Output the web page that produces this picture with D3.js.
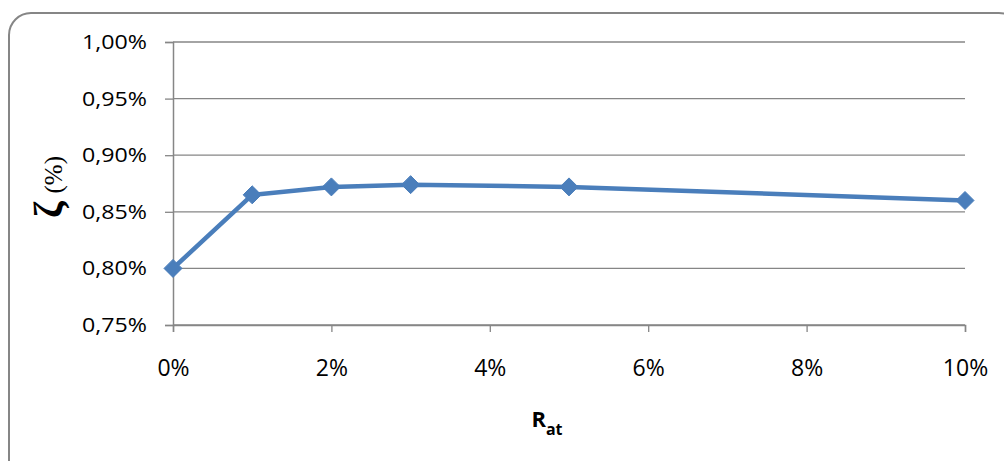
<!DOCTYPE html>
<html>
<head>
<meta charset="utf-8">
<script src="https://cdn.jsdelivr.net/npm/d3@7"></script>
<style>
  html, body { margin: 0; padding: 0; background: #fff; }
  svg { display: block; }
  .tick text { font-family: "Open Sans", "Liberation Sans", sans-serif; fill: #000; }
</style>
</head>
<body>
<svg id="chart" width="1004" height="461"></svg>
<script>
// Ratio R_at (fraction) and damping ratio ζ (fraction)
const ratValues = [0, 0.01, 0.02, 0.03, 0.05, 0.10];
const zetaValues = [0.0080, 0.00865, 0.00872, 0.00874, 0.00872, 0.00860];
const xTickValues = [0, 0.02, 0.04, 0.06, 0.08, 0.10];
const yTickValues = [0.0075, 0.0080, 0.0085, 0.0090, 0.0095, 0.0100];

const svg = d3.select("#chart");
const W = 1004, H = 461;
const margin = { left: 173, right: 39, top: 42, bottom: 136 };

// Chart frame with rounded corners (continues past the right/bottom edge)
svg.append("rect")
  .attr("x", 9).attr("y", 13)
  .attr("width", 1012).attr("height", 470)
  .attr("rx", 22).attr("ry", 22)
  .attr("fill", "#fff")
  .attr("stroke", "#868686")
  .attr("stroke-width", 2);

const x = d3.scaleLinear().domain([0, 0.10]).range([margin.left, W - margin.right]);
const y = d3.scaleLinear().domain([0.0075, 0.0100]).range([H - margin.bottom, margin.top]);

const fmtX = d => d3.format(".0%")(d);
const fmtY = d => d3.format(".2%")(d).replace(".", ",");

// Horizontal gridlines
svg.append("g")
  .selectAll("line")
  .data(yTickValues)
  .join("line")
  .attr("x1", x(0)).attr("x2", x(0.10))
  .attr("y1", d => y(d)).attr("y2", d => y(d))
  .attr("stroke", "#868686")
  .attr("stroke-width", 1.3);

// Y axis (labels widened horizontally)
const yStretch = 1.16;
const yAxis = svg.append("g")
  .attr("transform", `translate(${x(0)},0)`)
  .call(d3.axisLeft(y).tickValues(yTickValues).tickFormat(fmtY).tickSize(8).tickPadding(18));
yAxis.select(".domain").attr("stroke", "#868686").attr("stroke-width", 1.5);
yAxis.selectAll(".tick line").attr("stroke", "#868686").attr("stroke-width", 1.3);
yAxis.selectAll(".tick text")
  .attr("font-size", 20)
  .attr("x", -26 / yStretch)
  .attr("transform", `scale(${yStretch},1)`);

// X axis
const xAxis = svg.append("g")
  .attr("transform", `translate(0,${y(0.0075)})`)
  .call(d3.axisBottom(x).tickValues(xTickValues).tickFormat(fmtX).tickSize(7).tickPadding(28));
xAxis.select(".domain").attr("stroke", "#868686").attr("stroke-width", 1.5);
xAxis.selectAll(".tick line").attr("stroke", "#868686").attr("stroke-width", 1.3);
xAxis.selectAll(".tick text").attr("font-size", 23);

// Series line
const pts = ratValues.map((r, i) => [r, zetaValues[i]]);
svg.append("path")
  .datum(pts)
  .attr("fill", "none")
  .attr("stroke", "#4A7EBB")
  .attr("stroke-width", 4.5)
  .attr("stroke-linejoin", "round")
  .attr("d", d3.line().x(d => x(d[0])).y(d => y(d[1])));

// Diamond markers
svg.append("g")
  .selectAll("path")
  .data(pts)
  .join("path")
  .attr("transform", d => `translate(${x(d[0])},${y(d[1])})`)
  .attr("d", "M0,-9L9,0L0,9L-9,0Z")
  .attr("fill", "#4A7EBB")
  .attr("stroke", "#4A7EBB")
  .attr("stroke-width", 1);

// X axis title: R with subscript "at"
const xt = svg.append("text")
  .attr("x", 547).attr("y", 427)
  .attr("text-anchor", "middle")
  .attr("font-family", "'Open Sans', 'Liberation Sans', sans-serif")
  .attr("font-weight", "bold")
  .attr("font-size", 22);
xt.append("tspan").text("R");
xt.append("tspan").attr("dy", 8).attr("font-size", 16).text("at");

// Y axis title: ζ (%)
const yt = svg.append("text")
  .attr("transform", "translate(62,187) rotate(-90)")
  .attr("text-anchor", "middle")
  .attr("font-family", "'Liberation Serif', 'DejaVu Serif', serif");
yt.append("tspan").attr("font-size", 40).attr("font-weight", "bold").text("ζ");
yt.append("tspan").attr("dx", 8).attr("font-size", 25).text("(%)");
</script>
</body>
</html>
